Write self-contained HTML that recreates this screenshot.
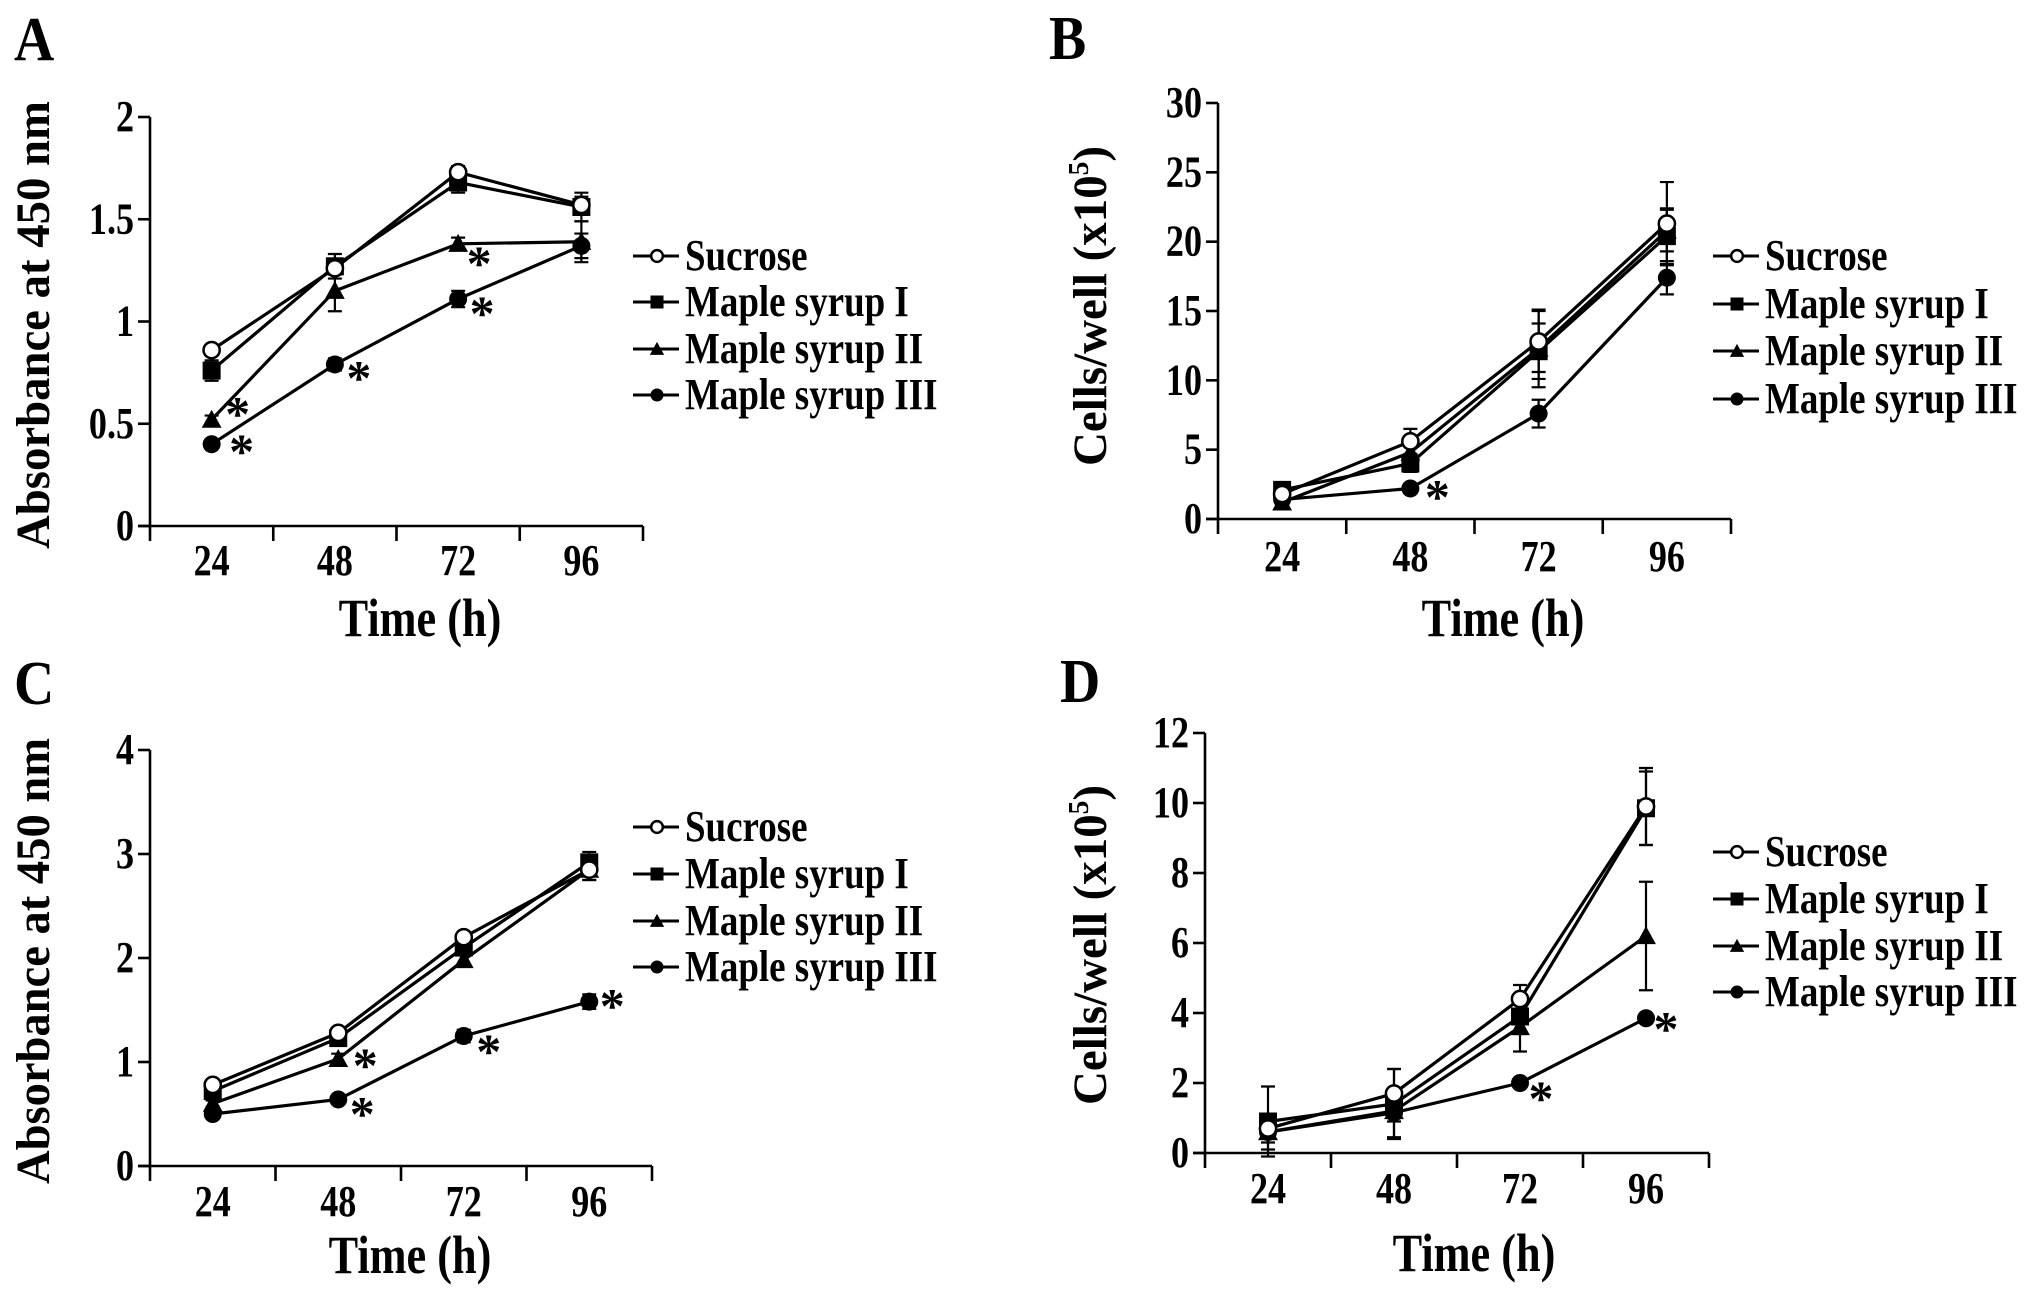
<!DOCTYPE html>
<html><head><meta charset="utf-8"><title>Cell proliferation figure</title>
<style>html,body{margin:0;padding:0;background:#fff}svg{display:block}text{font-family:"Liberation Serif",serif;font-weight:bold;fill:#000}</style>
</head><body>
<svg id="fig" width="2031" height="1291" viewBox="0 0 2031 1291" xmlns="http://www.w3.org/2000/svg"></svg>
<script>
const categories = ["24","48","72","96"];
const seriesNames = ["Sucrose","Maple syrup I","Maple syrup II","Maple syrup III"];

// Panel A
const aSucrose = [0.86,1.26,1.73,1.57];
const aSyrup1 = [0.76,1.27,1.68,1.56];
const aSyrup2 = [0.52,1.15,1.38,1.39];
const aSyrup3 = [0.40,0.79,1.11,1.37];
const aErrSucrose = [0.02,0.03,0.03,0.04];
const aErrSyrup1 = [0.05,0.06,0.05,0.07];
const aErrSyrup2 = [0.02,0.10,0.03,0.10];
const aErrSyrup3 = [0.02,0.03,0.04,0.06];
const aTicks = ["0","0.5","1","1.5","2"];
const aTickValues = [0,0.5,1,1.5,2];

// Panel B
const bSucrose = [1.8,5.6,12.8,21.3];
const bSyrup1 = [2.1,4.0,12.1,20.4];
const bSyrup2 = [1.2,4.8,12.3,20.8];
const bSyrup3 = [1.4,2.2,7.6,17.4];
const bErrSucrose = [0.3,0.9,2.2,3.0];
const bErrSyrup1 = [0.4,0.6,2.0,2.0];
const bErrSyrup2 = [0.3,0.5,2.8,1.5];
const bErrSyrup3 = [0.2,0.3,1.0,1.2];
const bTicks = ["0","5","10","15","20","25","30"];
const bTickValues = [0,5,10,15,20,25,30];

// Panel C
const cSucrose = [0.78,1.28,2.20,2.85];
const cSyrup1 = [0.72,1.23,2.10,2.92];
const cSyrup2 = [0.60,1.03,1.98,2.85];
const cSyrup3 = [0.50,0.64,1.25,1.58];
const cErrSucrose = [0.05,0.05,0.05,0.10];
const cErrSyrup1 = [0.05,0.06,0.05,0.10];
const cErrSyrup2 = [0.03,0.05,0.05,0.10];
const cErrSyrup3 = [0.03,0.03,0.06,0.07];
const cTicks = ["0","1","2","3","4"];
const cTickValues = [0,1,2,3,4];

// Panel D
const dSucrose = [0.70,1.70,4.40,9.90];
const dSyrup1 = [0.90,1.40,3.90,9.85];
const dSyrup2 = [0.60,1.20,3.60,6.20];
const dSyrup3 = [0.60,1.15,2.00,3.85];
const dErrSucrose = [0.3,0.7,0.4,1.1];
const dErrSyrup1 = [1.0,1.0,0.5,1.05];
const dErrSyrup2 = [0.3,0.3,0.7,1.55];
const dErrSyrup3 = [0.5,0.7,0.1,0.1];
const dTicks = ["0","2","4","6","8","10","12"];
const dTickValues = [0,2,4,6,8,10,12];

// significance marks: [seriesIndex, categoryIndex]
const aStars = [[2,0],[3,0],[3,1],[2,2],[3,2]];
const bStars = [[3,1]];
const cStars = [[2,1],[3,1],[3,2],[3,3]];
const dStars = [[3,2],[3,3]];

const NS="http://www.w3.org/2000/svg";
const svg=document.getElementById('fig');
function el(tag,attrs,parent){const e=document.createElementNS(NS,tag);for(const k in attrs)e.setAttribute(k,attrs[k]);(parent||svg).appendChild(e);return e;}

const panels=[
 {letter:"A",lx:14,ly:58,x0:150,x1:643,yTop:117,yBot:526,max:2,ticks:aTicks,tv:aTickValues,
  series:[aSucrose,aSyrup1,aSyrup2,aSyrup3],errs:[aErrSucrose,aErrSyrup1,aErrSyrup2,aErrSyrup3],stars:aStars,
  starOff:[[26,-11],[30,2],[24,8],[21,14],[24,9]],ylab:"abs",ylx:33,yly:325,yll:448,xtY:573,ttX:420,ttY:636,legX:657,legY:[256,302,349,395]},
 {letter:"B",lx:1049,ly:57,x0:1218,x1:1731,yTop:103,yBot:519,max:30,ticks:bTicks,tv:bTickValues,
  series:[bSucrose,bSyrup1,bSyrup2,bSyrup3],errs:[bErrSucrose,bErrSyrup1,bErrSyrup2,bErrSyrup3],stars:bStars,
  starOff:[[27,3]],ylab:"cells",ylx:1090,yly:306,yll:320,xtY:569,ttX:1503,ttY:636,legX:1737,legY:[256,304,351,399]},
 {letter:"C",lx:14,ly:702,x0:150,x1:652,yTop:750,yBot:1166,max:4,ticks:cTicks,tv:cTickValues,
  series:[cSucrose,cSyrup1,cSyrup2,cSyrup3],errs:[cErrSucrose,cErrSyrup1,cErrSyrup2,cErrSyrup3],stars:cStars,
  starOff:[[27,1],[24,9],[25,10],[23,-1]],ylab:"abs",ylx:33,yly:961,yll:446,xtY:1214,ttX:410,ttY:1273,legX:657,legY:[827,874,921,967]},
 {letter:"D",lx:1060,ly:700,x0:1205,x1:1709,yTop:733,yBot:1153,max:12,ticks:dTicks,tv:dTickValues,
  series:[dSucrose,dSyrup1,dSyrup2,dSyrup3],errs:[dErrSucrose,dErrSyrup1,dErrSyrup2,dErrSyrup3],stars:dStars,
  starOff:[[21,10],[20,5]],ylab:"cells",ylx:1090,yly:945,yll:320,xtY:1201,ttX:1474,ttY:1271,legX:1737,legY:[852,899,946,992]}
];

function ctext(parent,x,y,size,sx,anchor,str){
  const t=el('text',{x:0,y:0,'font-size':size,'text-anchor':anchor,transform:`translate(${x},${y}) scale(${sx},1)`},parent);
  t.textContent=str;return t;
}

function marker(g,type,x,y,s){
  let m;
  if(type===0){m=el('circle',{cx:x,cy:y,r:s*0.45,fill:'#fff',stroke:'#000','stroke-width':2.5},g);}
  else if(type===1){m=el('rect',{x:x-s/2,y:y-s/2,width:s,height:s,fill:'#000'},g);}
  else if(type===2){m=el('polygon',{points:`${x},${y-s*0.55} ${x-s*0.55},${y+s*0.45} ${x+s*0.55},${y+s*0.45}`,fill:'#000'},g);}
  else {m=el('circle',{cx:x,cy:y,r:s*0.5,fill:'#000'},g);}
  return m;
}

panels.forEach((p,pi)=>{
  const g=el('g',{});
  
  
  const band=(p.x1-p.x0)/categories.length;
  const xs=i=>p.x0+band*(i+0.5);
  const ys=v=>p.yBot-(v/p.max)*(p.yBot-p.yTop);

  const L=ctext(g,p.lx,p.ly+2,62,0.9,'start',p.letter);
  
  

  const ya=el('line',{x1:p.x0,y1:p.yTop,x2:p.x0,y2:p.yBot,stroke:'#000','stroke-width':2.6},g);
  
  
  const xa=el('line',{x1:p.x0-12,y1:p.yBot,x2:p.x1,y2:p.yBot,stroke:'#000','stroke-width':2.6},g);
  
  

  p.tv.forEach((v,i)=>{
    el('line',{x1:p.x0-12,y1:ys(v),x2:p.x0,y2:ys(v),stroke:'#000','stroke-width':2.6},g);
    const t=ctext(g,p.x0-16,ys(v)+14,44,0.82,'end',p.ticks[i]);
    
    
  });
  for(let i=0;i<=categories.length;i++){
    el('line',{x1:p.x0+band*i,y1:p.yBot,x2:p.x0+band*i,y2:p.yBot+15,stroke:'#000','stroke-width':2.6},g);
  }
  categories.forEach((c,i)=>{
    const t=ctext(g,xs(i),p.xtY+2,44,0.82,'middle',c);
    
    
  });
  const tt=ctext(g,p.ttX,p.ttY,54,0.82,'middle',"Time (h)");
  
  

  const yl=el('text',{x:0,y:0,'font-size':48,'text-anchor':'middle',transform:`translate(${p.ylx+16},${p.yly}) rotate(-90)`,textLength:p.yll,lengthAdjust:'spacingAndGlyphs'},g);
  if(p.ylab==="abs"){yl.textContent="Absorbance at 450 nm";}
  else{yl.textContent="Cells/well (x10";const s=el('tspan',{'font-size':28,dy:-18},yl);s.textContent="5";const s2=el('tspan',{dy:18},yl);s2.textContent=")";}
  
  

  p.series.forEach((s,si)=>{
    const pl=el('polyline',{points:s.map((v,i)=>xs(i)+','+ys(v)).join(' '),fill:'none',stroke:'#000','stroke-width':3.2},g);
    
    
  });
  p.series.forEach((s,si)=>{
    s.forEach((v,i)=>{
      const e=p.errs[si][i],x=xs(i);
      const eb=el('path',{d:`M${x},${ys(v+e)}V${ys(v-e)}M${x-7},${ys(v+e)}H${x+7}M${x-7},${ys(v-e)}H${x+7}`,stroke:'#000','stroke-width':2.2,fill:'none'},g);
      
      
    });
  });
  [3,2,1,0].forEach(si=>{
    p.series[si].forEach((v,i)=>{
      const m=marker(g,si,xs(i),ys(v),18);
      
      
    });
  });
  p.stars.forEach((st,k)=>{
    const v=p.series[st[0]][st[1]];
    const t=el('text',{x:xs(st[1])+p.starOff[k][0],y:ys(v)+p.starOff[k][1]+22,'font-size':50,'text-anchor':'middle'},g);
    t.textContent="*";
    
    
  });
  seriesNames.forEach((n,si)=>{
    const y=p.legY[si];
    const lg=el('g',{},g);
    
    
    el('line',{x1:p.legX-24,y1:y,x2:p.legX+22,y2:y,stroke:'#000','stroke-width':3},lg);
    marker(lg,si,p.legX,y,13);
    ctext(lg,p.legX+28,y+14,44,0.84,'start',n);
  });
});
</script>
</body></html>
